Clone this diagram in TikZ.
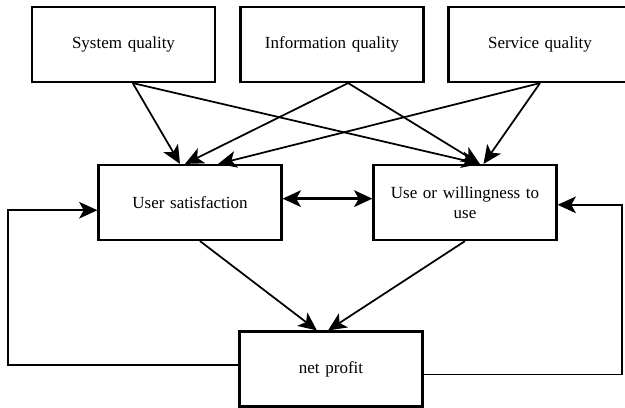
\documentclass[tikz,border=0pt]{standalone}
\usepackage{fontspec}
\setmainfont{Liberation Serif}
\usetikzlibrary{arrows.meta, calc}

\begin{document}
\begin{tikzpicture}[x=0.6pt, y=-0.6pt, >={Stealth[length=11pt, width=10pt, inset=2.8pt]},
      every node/.style={font=\fontsize{10.2}{12}\selectfont},
      box/.style={draw, line width=1.3pt, align=center, text width=100pt,
                  minimum width=109.8pt, minimum height=45pt, inner sep=0pt},
      arr/.style={->, line width=1.05pt}]
    \clip (0,0) rectangle (625,407);
    \node[box] (sys)  at (123.5,44.5) {System quality};
    \node[box] (info) at (332,44.5)   {Information quality};
    \node[box] (serv) at (540,44.5)   {Service quality};
    \node[box] (sat)  at (190,202.5)  {User satisfaction};
    \node[box] (use)  at (465,202.5)  {Use or willingness to\\ use};
    \node[box] (net)  at (331,369)    {net profit};
    \coordinate (lft) at (8,0);
    \coordinate (rgt) at (622,0);
    % quality -> satisfaction / use
    \draw[arr] ($(sys.south west)!0.55!(sys.south east)$) -- ($(sat.north west)!0.446!(sat.north east)$);
    \draw[arr] ($(sys.south west)!0.55!(sys.south east)$) -- ($(use.north west)!0.58!(use.north east)$);
    \draw[arr] ($(info.south west)!0.587!(info.south east)$) -- ($(sat.north west)!0.473!(sat.north east)$);
    \draw[arr] ($(info.south west)!0.587!(info.south east)$) -- ($(use.north west)!0.58!(use.north east)$);
    \draw[arr] (serv.south) -- ($(sat.north west)!0.652!(sat.north east)$);
    \draw[arr] (serv.south) -- ($(use.north west)!0.6!(use.north east)$);
    \draw[arr, <->, line width=1.4pt] ($(sat.north east)!0.45!(sat.south east)$) -- ($(use.north west)!0.45!(use.south west)$);
    % down to net profit
    \draw[arr] ($(sat.south west)!0.554!(sat.south east)$) -- ($(net.north west)!0.424!(net.north east)$);
    \draw[arr] (use.south) -- ($(net.north west)!0.484!(net.north east)$);
    % feedback loops
    \coordinate (netl) at ($(net.north west)!0.45!(net.south west)$);
    \coordinate (netr) at ($(net.north east)!0.57!(net.south east)$);
    \draw[arr] (netl) -- (netl -| lft) |- ($(sat.north west)!0.6!(sat.south west)$);
    \draw[arr] (netr) -- (netr -| rgt) |- ($(use.north east)!0.53!(use.south east)$);
  \end{tikzpicture}
\end{document}
